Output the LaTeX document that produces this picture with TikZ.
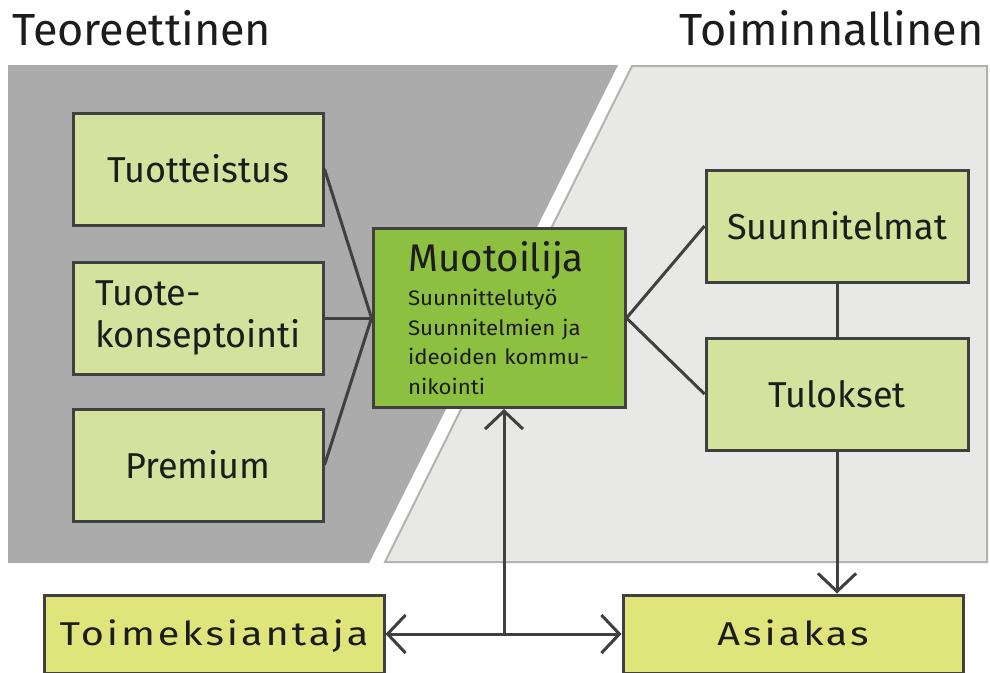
\documentclass[tikz,border=0pt]{standalone}
\usepackage{fontspec}
\setmainfont{Fira Sans}
\newfontfamily\smallface[FakeStretch=1.06]{Fira Sans}
\newfontfamily\wideface[FakeStretch=1.2,LetterSpace=9]{Fira Sans}
\usetikzlibrary{arrows.meta,positioning}
\definecolor{Ink}{HTML}{1C1C1C}
\definecolor{Edge}{HTML}{404040}
\definecolor{DarkBand}{HTML}{ABABAB}
\definecolor{LightBand}{HTML}{E8E8E6}
\definecolor{BandLine}{HTML}{B2B2B2}
\definecolor{Leaf}{HTML}{D4E29D}
\definecolor{LeafDark}{HTML}{8DBF40}
\definecolor{Straw}{HTML}{DFE47B}

\begin{document}
\begin{tikzpicture}[
      x=1pt,y=-1pt,
      node distance=34pt,
      box/.style={draw=Edge,fill=Leaf,line width=3pt,text=Ink,align=center,
        minimum width=250pt,minimum height=112pt,inner sep=0pt,
        font=\fontsize{36}{42}\selectfont},
      footbox/.style={box,fill=Straw,minimum height=78pt,text height=23pt,text depth=0pt,
        font=\wideface\fontsize{33}{38}\selectfont},
      title/.style={text=Ink,inner sep=0pt,font=\fontsize{45}{52}\selectfont},
      link/.style={line width=3pt,color=Edge},
      arrow/.style={-{Straight Barb[length=18pt,width=38pt]},line width=3pt,color=Edge},
      arrows2/.style={{Straight Barb[length=18pt,width=38pt]}-{Straight Barb[length=18pt,width=38pt]},
        line width=3pt,color=Edge}
    ]
      \useasboundingbox (0,0) rectangle (990,672);
      \fill[white] (0,0) rectangle (990,672);
      % the two bands
      \fill[DarkBand] (8,65) -- (618,65) -- (369,563) -- (8,563) -- cycle;
      \filldraw[fill=LightBand,draw=BandLine,line width=2pt]
        (632,66) -- (987,66) -- (987,562) -- (385,562) -- cycle;
      \node[title,anchor=base west] (teor) at (12,45) {Teoreettinen};
      \node[title,anchor=base east] (toim2) at (984,45) {Toiminnallinen};

      \node[box] (tuot) at (198,169) {Tuotteistus};
      \node[box,below=34pt of tuot,align=left] (konsept) {Tuote-\\konseptointi};
      \node[box,below=32pt of konsept] (prem) {Premium};
      \node[box,fill=LeafDark,minimum width=252pt,minimum height=179pt,text width=182pt,
        align=left,font=\smallface\fontsize{21}{29.5}\selectfont] (muot) at (499,318)
        {\makebox[176pt]{\normalfont\fontsize{38.5}{42}\selectfont Muotoilija}\\[4.5pt]
         \mbox{Suunnittelutyö}\\\mbox{Suunnitelmien ja}\\\mbox{ideoiden kommu-}\\\mbox{nikointi}};
      \node[box,minimum width=262pt] (suun) at (837,226) {Suunnitelmat};
      \node[box,minimum width=262pt,below=53pt of suun] (tul) {Tulokset};
      \node[footbox,minimum width=340pt] (toim) at (214,634) {Toimeksiantaja};
      \node[footbox,minimum width=340pt] (asiak) at (793,634) {Asiakas};
      \coordinate (foot) at ([xshift=5pt]muot.south);
      \coordinate (junc) at (foot |- toim.east);

      \draw[link] (tuot.east) -- (muot.west);
      \draw[link] (konsept.east) -- (muot.west);
      \draw[link] (prem.east) -- (muot.west);
      \draw[link] (muot.east) -- (suun.west);
      \draw[link] (muot.east) -- (tul.west);
      \draw[link] (suun) -- (tul);
      \draw[arrow] (tul.south) -- (tul.south |- asiak.north);
      \draw[arrows2] (toim.east) -- (asiak.west);
      \draw[arrow] (junc) -- (foot);
    \end{tikzpicture}
\end{document}
